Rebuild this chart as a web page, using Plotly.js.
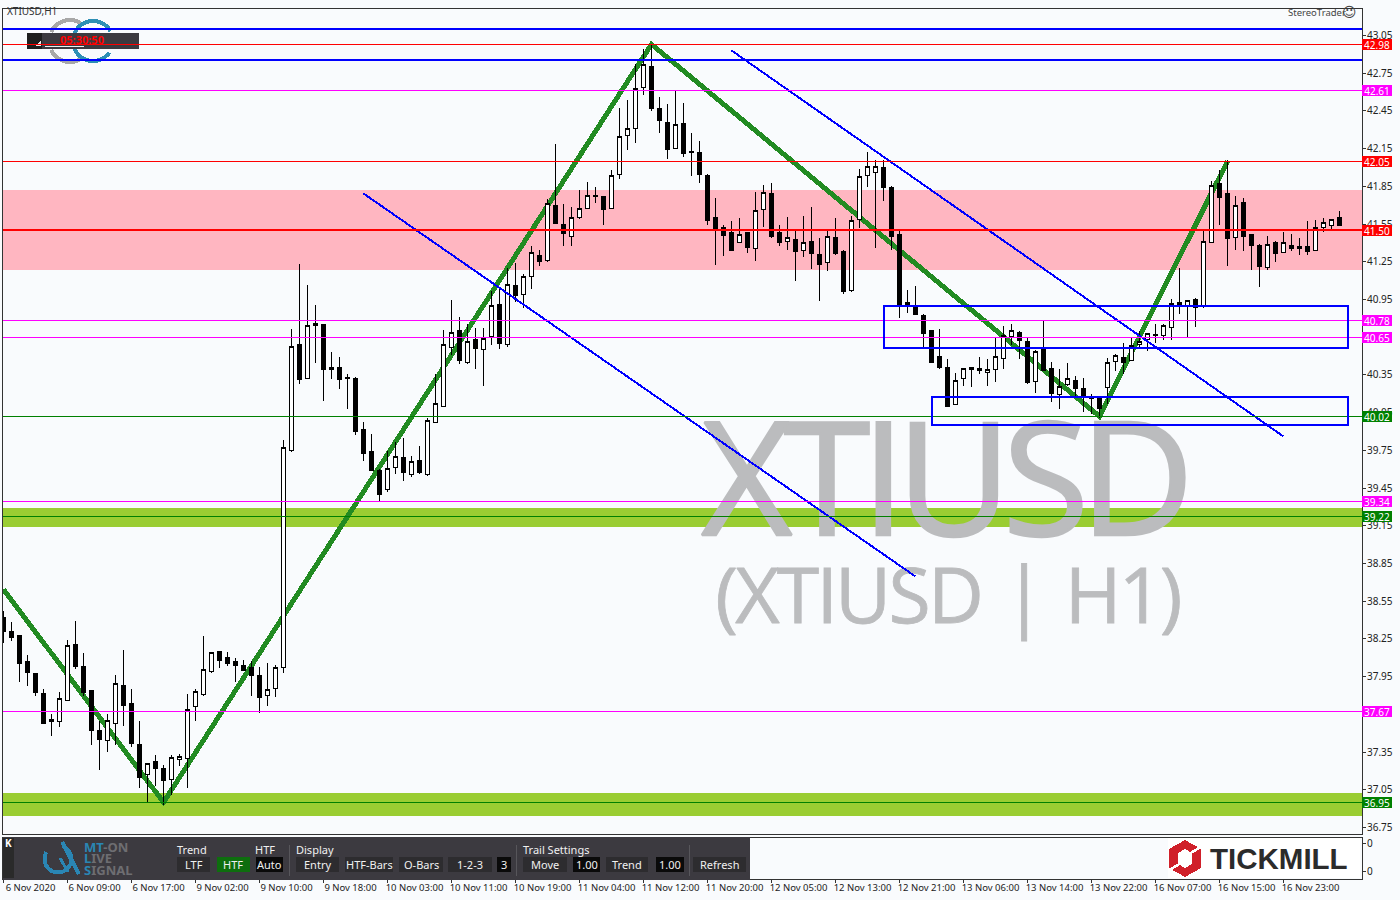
<!DOCTYPE html>
<html>
<head>
<meta charset="utf-8">
<script src="https://cdn.plot.ly/plotly-3.0.1.min.js"></script>
<style>
html,body{margin:0;padding:0;background:#F9FBFD;overflow:hidden}
.boxlayer path,.scatterlayer .js-line,.shapelayer path{shape-rendering:crispEdges}
</style>
</head>
<body>
<div id="chart" style="width:1400px;height:900px"></div>
<script>
const opens=[38.42,38.308,38.276,38.07,37.974,37.815,37.608,37.595,37.762,38.205,38.03,37.839,37.521,37.444,37.579,37.876,37.733,37.409,37.173,37.274,37.218,37.131,37.293,37.30,37.714,37.81,37.993,38.149,38.101,38.07,38.038,38.022,37.958,37.796,37.852,38.024,
39.752,40.592,40.324,40.762,40.751,40.409,40.409,40.33,40.322,39.916,39.741,39.59,39.441,39.616,39.693,39.561,39.669,39.561,39.974,40.102,40.571,40.704,40.452,40.632,40.555,40.658,40.91,40.595,41.062,40.993,41.136,
41.30,41.263,41.698,41.547,41.454,41.605,41.677,41.777,41.77,41.677,41.947,42.257,42.313,42.637,42.804,42.47,42.358,42.154,42.35,42.127,42.119,41.936,41.602,41.523,41.483,41.406,41.483,41.358,41.669,41.793,41.483,41.414,41.427,41.342,41.411,41.308,41.247,41.443,41.332,
41.024,41.584,41.934,41.958,42.0,41.841,41.467,40.926,40.894,40.823,40.703,40.497,40.409,40.117,40.319,40.39,40.401,40.372,40.396,40.483,40.658,40.685,40.616,40.30,40.552,40.398,40.194,40.274,40.306,40.242,40.165,40.168,
40.25,40.457,40.486,40.467,40.595,40.629,40.664,40.661,40.725,40.924,40.902,40.95,40.902,41.401,41.873,41.793,41.446,41.722,41.467,41.38,41.205,41.404,41.327,41.38,41.372,41.372,41.343,41.526,41.541,41.602];
const highs=[38.47,38.388,38.276,38.125,37.974,37.855,37.656,37.831,38.245,38.396,38.141,37.839,37.6,37.656,37.966,38.165,37.855,37.6,37.266,37.329,37.25,37.329,37.338,37.815,37.855,38.276,38.144,38.149,38.149,38.101,38.085,38.077,38.03,38.062,38.046,39.834,
40.717,41.229,41.062,40.91,40.751,40.536,40.489,40.361,40.33,39.972,39.876,39.598,39.741,39.813,39.852,39.701,39.781,40.011,40.361,40.704,40.942,40.807,40.751,40.72,40.72,41.014,41.03,41.197,41.237,41.149,41.372,
41.34,41.751,42.183,41.706,41.682,41.817,41.881,41.841,41.77,41.984,42.47,42.533,42.827,42.939,42.979,42.557,42.509,42.605,42.517,42.271,42.207,41.952,41.754,41.539,41.571,41.602,41.483,41.809,41.857,41.873,41.539,41.61,41.491,41.618,41.682,41.443,41.491,41.602,41.34,
41.618,41.992,42.12,42.056,42.056,41.849,41.491,41.022,41.054,40.831,40.703,40.719,40.473,40.369,40.401,40.409,40.489,40.473,40.64,40.743,40.751,40.703,40.64,40.552,40.775,40.449,40.393,40.441,40.338,40.322,40.20,40.17,
40.486,40.518,40.6,40.64,40.703,40.68,40.751,40.751,40.95,41.197,40.947,40.958,41.491,41.889,41.984,42.056,41.777,41.754,41.467,41.388,41.459,41.412,41.483,41.467,41.443,41.571,41.579,41.602,41.59,41.65];
const lows=[38.215,38.237,37.905,37.879,37.799,37.576,37.481,37.552,37.762,38.014,37.799,37.409,37.21,37.354,37.409,37.56,37.393,37.067,36.945,37.083,36.929,37.011,37.242,37.067,37.6,37.799,37.982,38.022,38.038,37.91,37.998,37.799,37.664,37.719,37.791,37.982,
39.736,40.274,40.316,40.441,40.139,40.314,40.234,40.075,39.868,39.669,39.582,39.343,39.415,39.558,39.502,39.534,39.558,39.542,39.974,40.102,40.505,40.433,40.433,40.393,40.258,40.584,40.56,40.571,40.926,40.879,41.03,
41.213,41.252,41.555,41.372,41.372,41.594,41.677,41.714,41.539,41.669,41.905,42.143,42.191,42.573,42.446,42.271,42.064,42.154,42.08,41.929,41.873,41.539,41.228,41.292,41.34,41.406,41.316,41.26,41.523,41.443,41.372,41.34,41.101,41.284,41.189,40.934,41.173,41.30,40.99,
41.008,41.515,41.841,41.356,41.73,41.34,40.799,40.839,40.823,40.56,40.449,40.393,40.099,40.117,40.258,40.25,40.361,40.258,40.29,40.393,40.584,40.473,40.274,40.21,40.385,40.131,40.075,40.258,40.178,40.051,40.04,40.009,
40.12,40.385,40.361,40.465,40.56,40.544,40.6,40.624,40.624,40.831,40.648,40.735,40.886,41.401,41.539,41.213,41.34,41.332,41.181,41.053,41.181,41.252,41.316,41.332,41.30,41.30,41.343,41.483,41.507,41.539];
const closes=[38.31,38.26,38.056,37.982,37.823,37.576,37.592,37.773,38.194,38.03,37.823,37.521,37.449,37.597,37.892,37.719,37.417,37.147,37.258,37.218,37.123,37.306,37.314,37.685,37.828,38.003,38.138,38.077,38.054,38.038,37.998,37.958,37.783,37.844,38.019,39.77,
40.574,40.314,40.741,40.746,40.393,40.393,40.314,40.322,39.90,39.725,39.59,39.399,39.603,39.699,39.574,39.659,39.574,39.985,40.12,40.59,40.685,40.465,40.613,40.56,40.64,40.902,40.60,41.07,40.982,41.133,41.321,
41.252,41.711,41.555,41.475,41.60,41.671,41.775,41.767,41.666,41.934,42.244,42.308,42.626,42.82,42.47,42.374,42.143,42.34,42.111,42.119,41.944,41.578,41.499,41.459,41.34,41.467,41.364,41.655,41.799,41.451,41.403,41.441,41.332,41.401,41.316,41.228,41.449,41.316,41.014,
41.576,41.926,42.006,42.006,41.844,41.451,40.91,40.902,40.831,40.68,40.449,40.409,40.099,40.303,40.398,40.406,40.385,40.39,40.494,40.661,40.701,40.627,40.29,40.534,40.385,40.202,40.261,40.319,40.242,40.178,40.17,40.083,
40.446,40.507,40.449,40.587,40.613,40.677,40.672,40.743,40.916,40.90,40.94,40.886,41.409,41.854,41.764,41.438,41.695,41.451,41.38,41.213,41.385,41.316,41.406,41.356,41.356,41.332,41.52,41.56,41.584,41.539];

const tickBars=[0,8,16,24,32,40,48,56,64,72,80,88,96,104,112,120,128,136,144,152,160];
const tickLabels=["6 Nov 2020","6 Nov 09:00","6 Nov 17:00","9 Nov 02:00","9 Nov 10:00","9 Nov 18:00","10 Nov 03:00","10 Nov 11:00","10 Nov 19:00","11 Nov 04:00","11 Nov 12:00","11 Nov 20:00","12 Nov 05:00","12 Nov 13:00","12 Nov 21:00","13 Nov 06:00","13 Nov 14:00","13 Nov 22:00","16 Nov 07:00","16 Nov 15:00","16 Nov 23:00"];
const priceTicks=[43.05,42.75,42.45,42.15,41.85,41.55,41.25,40.95,40.65,40.35,40.05,39.75,39.45,39.15,38.85,38.55,38.25,37.95,37.65,37.35,37.05,36.75];
const hiddenTicks=[40.65,37.65];

const zigzagBars=[0,20,81,137,153];
const zigzagPrices=[38.643,36.95,42.98,40.02,42.05];
const trendABars=[45,114], trendAPrices=[41.793,38.746];
const trendBBars=[91,160], trendBPrices=[42.931,39.86];

const levelPrices=[42.98,42.61,42.05,41.50,40.78,40.65,40.02,39.34,39.22,37.67,36.95];
const levelColors=["#FF0000","#FF00FF","#FF0000","#FF0000","#FF00FF","#FF00FF","#008000","#FF00FF","#008000","#FF00FF","#008000"];
const levelWidths=[1,1,1,2,1,1,1,1,1,1,1];
const blueLevels=[43.102,42.855];
const zones=[[41.821,41.185,"#FFB6C1"],[39.289,39.14,"#9ACD32"],[37.024,36.841,"#9ACD32"]];
const boxes=[[110,168,40.898,40.564],[116,168,40.174,39.951]];

const L=3,R=1362,T=8,B=879,PW=R-L,PH=B-T;
const fx=p=>(p-L)/PW, fy=p=>(B-p)/PH;
const FONT="Noto Sans, Open Sans, sans-serif";

const shapes=[], annotations=[];
function rect(x0,y0,x1,y1,fill,line,layer){
  shapes.push({type:"rect",xref:"paper",yref:"paper",x0:fx(x0),x1:fx(x1),y0:fy(y0),y1:fy(y1),fillcolor:fill||"rgba(0,0,0,0)",line:line?{color:line,width:1}:{width:0},layer:layer||"above"});
}
function seg(x0,y0,x1,y1,color,w,layer){
  shapes.push({type:"line",xref:"paper",yref:"paper",x0:fx(x0),x1:fx(x1),y0:fy(y0),y1:fy(y1),line:{color:color,width:w},layer:layer||"above"});
}
function arc(cx,cy,r,a0,a1,color,w,layer){
  let d="";
  for(let k=0;k<=24;k++){
    const a=(a0+(a1-a0)*k/24)*Math.PI/180;
    d+=(k?"L":"M")+fx(cx+r*Math.cos(a)).toFixed(5)+","+fy(cy+r*Math.sin(a)).toFixed(5);
  }
  shapes.push({type:"path",xref:"paper",yref:"paper",path:d,line:{color:color,width:w},layer:layer||"above"});
}
function poly(pts,fill,layer){
  const d=pts.map((p,k)=>(k?"L":"M")+fx(p[0]).toFixed(5)+","+fy(p[1]).toFixed(5)).join("")+"Z";
  shapes.push({type:"path",xref:"paper",yref:"paper",path:d,fillcolor:fill,line:{width:0},layer:layer||"above"});
}
function label(text,x,y,opt){
  opt=opt||{};
  annotations.push({xref:"paper",yref:"paper",x:fx(x),y:fy(y),text:text,showarrow:false,xanchor:opt.anchor||"center",yanchor:"middle",borderpad:0,borderwidth:0,
    font:{family:opt.family||FONT,size:opt.size||11,color:opt.color||"#F0F0F0",weight:opt.weight||"normal"}});
}

/* zones and the faint logo lie under everything */
zones.forEach(z=>shapes.push({type:"rect",xref:"paper",yref:"y",x0:0,x1:1,y0:z[0],y1:z[1],fillcolor:z[2],line:{width:0},layer:"below"}));
arc(70,41,21,205,300,"#A8A8A8",4,"below");
arc(70,41,21,60,155,"#A8A8A8",4,"below");
arc(93,41,20,200,330,"#2E8FB5",4,"below");
arc(93,41,20,35,170,"#2E8FB5",4,"below");

/* clock panel */
rect(27,33,139,49,"#3C3A40");
rect(27,33,42,49,"#1E1E1E");
poly([[35,46],[41,41],[41,46]],"#EEEEEE");
seg(45,46.5,84,46.5,"#EEEEEE",1);
label("05:30:50",82,40,{color:"#FF0000",weight:"bold",size:11});

/* level lines */
blueLevels.forEach(p=>shapes.push({type:"line",xref:"paper",yref:"y",x0:0,x1:1,y0:p,y1:p,line:{color:"#0000FF",width:2},layer:"above"}));
levelPrices.forEach((p,i)=>{
  shapes.push({type:"line",xref:"paper",yref:"y",x0:0,x1:1,y0:p,y1:p,line:{color:levelColors[i],width:levelWidths[i]},layer:"above"});
  annotations.push({xref:"paper",yref:"y",x:fx(1377),y:p,text:p.toFixed(2),showarrow:false,xanchor:"center",yanchor:"middle",bgcolor:levelColors[i],width:30,height:11,borderpad:0,borderwidth:0,font:{family:FONT,size:10,color:"#FFFFFF"}});
});
boxes.forEach(b=>shapes.push({type:"rect",xref:"x",yref:"y",x0:b[0],x1:b[1],y0:b[2],y1:b[3],fillcolor:"rgba(0,0,0,0)",line:{color:"#0000FF",width:2},layer:"above"}));

/* frames */
rect(2.5,8.5,1362,834,null,"#333333");
rect(2.5,837.5,1362,879,null,"#333333");

/* toolbar */
rect(3,837,750,879.5,"#3C3A40");
rect(3,838,14,878,"#2A2A2A");
label("K",8.5,843,{size:10,weight:"bold",color:"#FFFFFF"});
arc(58,859,13.5,-70,210,"#2A86B4",4);
seg(62,842,79,874,"#2A86B4",4);
seg(60,858,68,872,"#2A86B4",3);
annotations.push({xref:"paper",yref:"paper",x:fx(82),y:fy(847),showarrow:false,xanchor:"left",yanchor:"middle",font:{family:FONT,size:13,weight:"bold",color:"#6E6E72"},text:'<span style="color:#2A86B4">MT</span>-ON'});
annotations.push({xref:"paper",yref:"paper",x:fx(82),y:fy(858),showarrow:false,xanchor:"left",yanchor:"middle",font:{family:FONT,size:13,weight:"bold",color:"#6E6E72"},text:'<span style="color:#2A86B4">L</span>IVE'});
annotations.push({xref:"paper",yref:"paper",x:fx(82),y:fy(870),showarrow:false,xanchor:"left",yanchor:"middle",font:{family:FONT,size:13,weight:"bold",color:"#6E6E72"},text:'<span style="color:#2A86B4">S</span>IGNAL'});
[["Trend",177],["HTF",255],["Display",296],["Trail Settings",523]].forEach(t=>label(t[0],t[1],849,{anchor:"left",size:11}));
[[289],[516],[689]].forEach(s=>seg(s[0],845,s[0],876,"#57565B",1));
[["LTF",177,210,"#2D2C2F"],["HTF",217,250,"#0E6E0E"],["Auto",256,283,"#0A0A0A"],["Entry",296,339,"#2D2C2F"],["HTF-Bars",345,393,"#2D2C2F"],["O-Bars",399,443,"#2D2C2F"],["1-2-3",448,492,"#2D2C2F"],["3",497,511,"#0A0A0A"],["Move",523,567,"#2D2C2F"],["1.00",573,600,"#0A0A0A"],["Trend",606,648,"#2D2C2F"],["1.00",656,684,"#0A0A0A"],["Refresh",693,746,"#2D2C2F"]].forEach(b=>{
  rect(b[1],857,b[2],872,b[3]);
  label(b[0],(b[1]+b[2])/2,864.5,{size:11});
});

/* broker logo */
rect(1168,838,1360,878,"#FFFFFF");
poly([[1185,840],[1201,849],[1201,868],[1185,877],[1169,868],[1169,849]],"#D0202A");
poly([[1185,849],[1192,853],[1192,864],[1185,868],[1178,864],[1178,853]],"#FFFFFF");
seg(1168,871,1184,861,"#FFFFFF",2.5);
seg(1202,846,1186,856,"#FFFFFF",2.5);
label("TICKMILL",1210,858,{anchor:"left",family:"Liberation Sans, sans-serif",size:29.5,weight:"bold",color:"#2B2B2B"});

/* corner texts */
label("XTIUSD,H1",7,10.5,{anchor:"left",size:10,color:"#333333"});
label("StereoTrader",1288,12,{anchor:"left",size:9.5,color:"#444444"});
label("\u263A",1349,12,{size:14,color:"#444444",family:"DejaVu Sans"});

const barIndex=opens.map((_,i)=>i);
const traces=[
 {type:"scatter",mode:"text",x:[117.5],y:[39.391],text:["XTIUSD"],textposition:"middle center",textfont:{family:"Open Sans",size:157,color:"#BBBCBE"},hoverinfo:"skip",xaxis:"x",yaxis:"y",showlegend:false},
 {type:"scatter",mode:"text",x:[118],y:[38.53],text:["(XTIUSD\u00A0\u200A|\u00A0\u200AH1)"],textposition:"middle center",textfont:{family:"Open Sans",size:77,color:"#BBBCBE"},hoverinfo:"skip",xaxis:"x",yaxis:"y",showlegend:false},
 {type:"scatter",mode:"lines",x:zigzagBars,y:zigzagPrices,line:{color:"#228B22",width:5},hoverinfo:"skip",xaxis:"x",yaxis:"y",showlegend:false},
 {type:"scatter",mode:"markers",x:[0],y:[0.5],marker:{opacity:0,size:1},hoverinfo:"skip",xaxis:"x",yaxis:"y2",showlegend:false},
 {type:"candlestick",x:barIndex,open:opens,high:highs,low:lows,close:closes,whiskerwidth:0,
  increasing:{line:{color:"#000000",width:1},fillcolor:"#FFFFFF"},
  decreasing:{line:{color:"#000000",width:1},fillcolor:"#000000"},xaxis:"x",yaxis:"y3",showlegend:false,hoverinfo:"skip"},
 {type:"scatter",mode:"lines",x:trendABars,y:trendAPrices,line:{color:"#0000FF",width:2},hoverinfo:"skip",xaxis:"x",yaxis:"y3",showlegend:false},
 {type:"scatter",mode:"lines",x:trendBBars,y:trendBPrices,line:{color:"#0000FF",width:2},hoverinfo:"skip",xaxis:"x",yaxis:"y3",showlegend:false}
];
const yRange=[36.6977,43.2688];
const tickFont={family:FONT,size:10,color:"#222222"};
const layout={
 width:1400,height:900,autosize:false,
 margin:{l:L,r:1400-R,t:T,b:900-B,pad:0},
 paper_bgcolor:"#F9FBFD",plot_bgcolor:"#F9FBFD",showlegend:false,boxgap:0.42,boxmode:"group",
 xaxis:{domain:[0,1],anchor:"y2",range:[-0.0625,169.8125],tickmode:"array",tickvals:tickBars,ticktext:tickLabels,tickangle:0,ticks:"outside",ticklen:3,tickcolor:"#333333",tickwidth:1,tickfont:{family:FONT,size:9.5,color:"#222222"},ticklabelshift:27,ticklabelstandoff:-3,showgrid:false,zeroline:false,showline:false,rangeslider:{visible:false},fixedrange:true,automargin:false},
 yaxis:{domain:[(B-834)/PH,1],anchor:"x",side:"right",range:yRange,tickmode:"array",tickvals:priceTicks,ticktext:priceTicks.map(v=>hiddenTicks.includes(v)?"":v.toFixed(2)),ticks:"outside",ticklen:3,tickcolor:"#333333",tickwidth:1,tickfont:tickFont,ticklabelstandoff:-1,showgrid:false,zeroline:false,showline:false,fixedrange:true,automargin:false},
 yaxis3:{overlaying:"y",anchor:"x",side:"right",range:yRange,visible:false,showgrid:false,zeroline:false,fixedrange:true},
 yaxis2:{domain:[0,(B-837)/PH],anchor:"x",side:"right",range:[0,1],tickmode:"array",tickvals:[0.167,0.857],ticktext:["0","0"],ticks:"outside",ticklen:3,tickcolor:"#333333",tickwidth:1,tickfont:tickFont,ticklabelstandoff:-1,showgrid:false,zeroline:false,showline:false,fixedrange:true,automargin:false},
 shapes:shapes,annotations:annotations
};
Plotly.newPlot("chart",traces,layout,{displayModeBar:false,staticPlot:true}).then(()=>{
  const t=document.querySelectorAll(".textpoint text");
  if(t[0]){t[0].style.letterSpacing="-8.6px";t[0].style.stroke="#BBBCBE";t[0].style.strokeWidth="2.5px";}
  if(t[1]){t[1].style.letterSpacing="-2.8px";t[1].style.stroke="#BBBCBE";t[1].style.strokeWidth="0.8px";}
});
</script>
</body>
</html>
